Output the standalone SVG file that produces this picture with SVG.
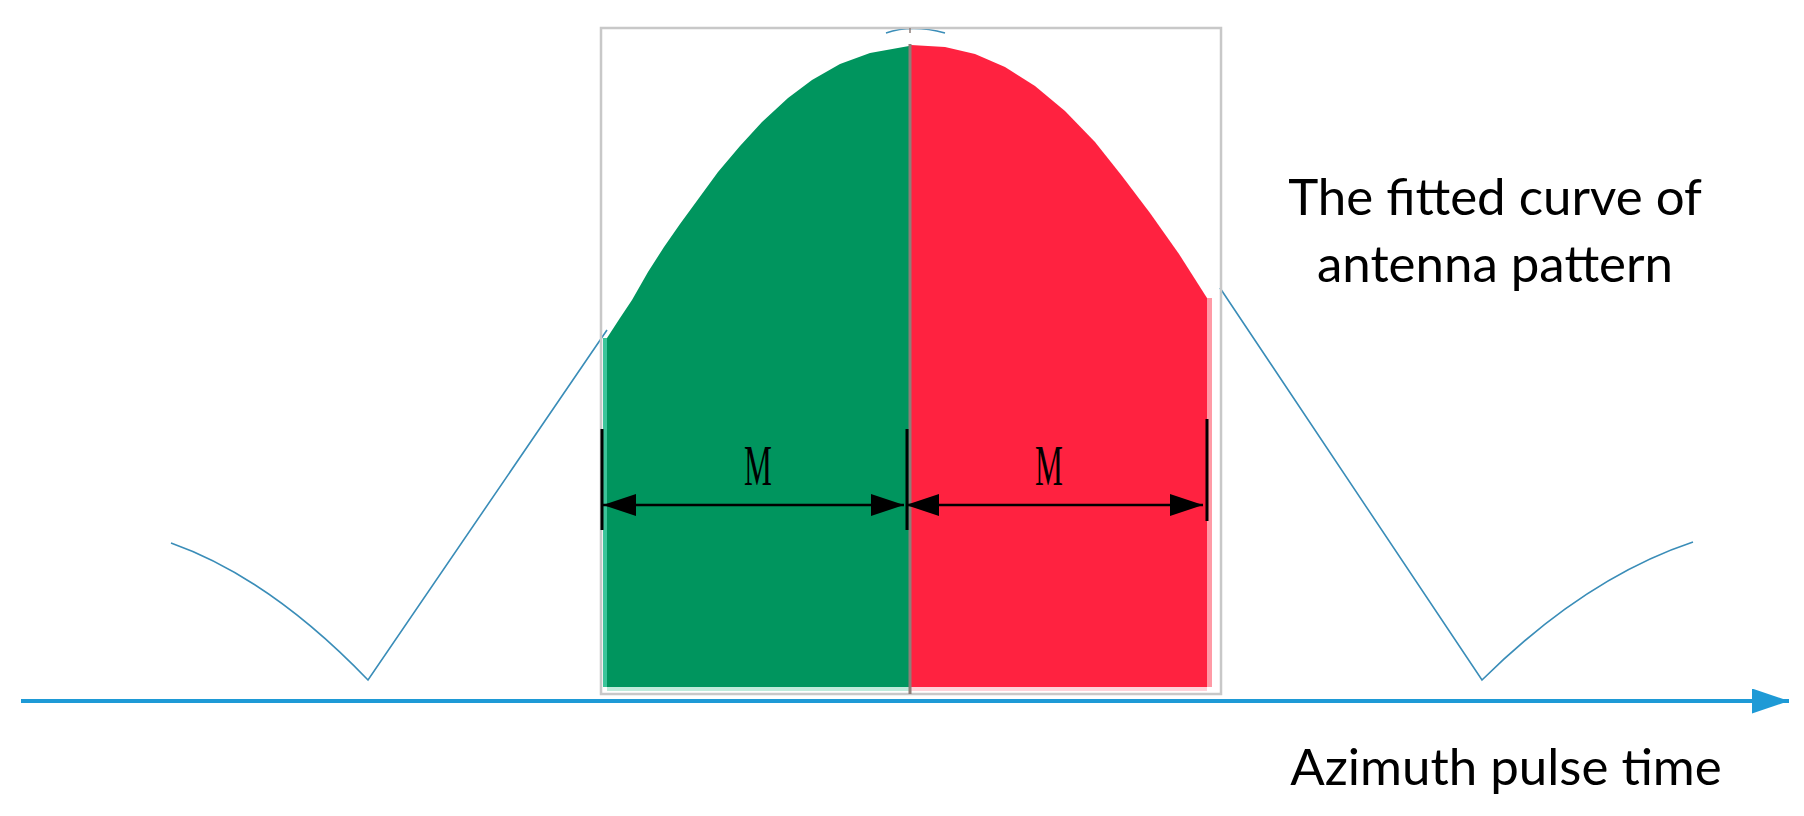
<svg xmlns="http://www.w3.org/2000/svg" width="1804" height="816" viewBox="0 0 1804 816">
  <style>
    .curve { fill: none; stroke: #3A8DB8; stroke-width: 1.6; }
    .label { font-family: Lato, "Open Sans", sans-serif; font-size: 51px; fill: #000; text-anchor: middle; }
    .m { font-family: "Liberation Serif", serif; font-size: 57px; fill: #000; text-anchor: middle; }
    .tick { stroke: #000; stroke-width: 3; }
    .dim { stroke: #000; stroke-width: 2.5; fill: none; }
  </style>
  <defs>
    <marker id="ah" viewBox="0 0 33 22" refX="33" refY="11" markerWidth="33" markerHeight="22" markerUnits="userSpaceOnUse" orient="auto-start-reverse">
      <path d="M0,0 L33,11 L0,22 Z" fill="#000"/>
    </marker>
    <marker id="axisHead" viewBox="0 0 37 25" refX="37" refY="12.5" markerWidth="37" markerHeight="25" markerUnits="userSpaceOnUse" orient="auto">
      <path d="M0,0 L37,12.5 L0,25 Z" fill="#1E9AD6"/>
    </marker>
  </defs>

  <g id="side-lobes">
    <path class="curve" d="M171,543 Q270,578 368,680 L607,330"/>
    <path class="curve" d="M1220,288 L1482,680 Q1585,578 1693,542"/>
    <path class="curve" d="M886,33 Q912,24 945,33"/>
  </g>

  <g id="main-lobe">
    <rect x="601" y="28" width="620" height="666" fill="none" stroke="#C8C8C8" stroke-width="2.5"/>
    <path id="green-half" fill="#00955E" d="M607,687 L607,338 L620,318 L632,300 L648,272 L664,247 L680,224 L699,198 L718,172 L740,146 L762,122 L788,98 L812,80 L840,64 L870,53 L909,46 L909,687 Z"/>
    <path id="red-half" fill="#FF2240" d="M911,687 L911,45 L945,47 L975,54 L1005,67 L1035,86 L1065,111 L1095,142 L1122,176 L1150,213 L1179,254 L1207,298 L1207,687 Z"/>
    <rect x="603" y="338" width="4" height="349" fill="#3CC49A"/>
    <rect x="1207" y="298" width="5" height="389" fill="#FF9AA6"/>
    <rect x="607" y="687" width="302" height="4" fill="#BFEBDB"/>
    <rect x="911" y="687" width="296" height="4" fill="#FFD2D9"/>
    <line x1="910" y1="44" x2="910" y2="694" stroke="#8E7E78" stroke-width="3"/>
    <line x1="910" y1="28" x2="910" y2="33" stroke="#8E7E78" stroke-width="1.5"/>
  </g>

  <g id="dimension-ticks">
    <line class="tick" x1="602" y1="429" x2="602" y2="530"/>
    <line class="tick" x1="907" y1="429" x2="907" y2="530"/>
    <line class="tick" x1="1207" y1="419" x2="1207" y2="521"/>
  </g>

  <g id="label-m-left">
    <text class="m" transform="translate(758,485) scale(0.55,1)">M</text>
  </g>
  <g id="label-m-right">
    <text class="m" transform="translate(1049,485) scale(0.55,1)">M</text>
  </g>

  <g id="label-curve">
    <text class="label" x="1495" y="215">The fitted curve of</text>
    <text class="label" x="1495" y="282">antenna pattern</text>
  </g>

  <g id="label-axis">
    <text class="label" x="1506" y="785">Azimuth pulse time</text>
  </g>

  <g id="connectors">
    <line class="dim" x1="603" y1="505" x2="904" y2="505" marker-start="url(#ah)" marker-end="url(#ah)"/>
    <line class="dim" x1="906" y1="505" x2="1203" y2="505" marker-start="url(#ah)" marker-end="url(#ah)"/>
    <line x1="21" y1="701" x2="1789" y2="701" stroke="#1E9AD6" stroke-width="4" marker-end="url(#axisHead)"/>
  </g>
</svg>
